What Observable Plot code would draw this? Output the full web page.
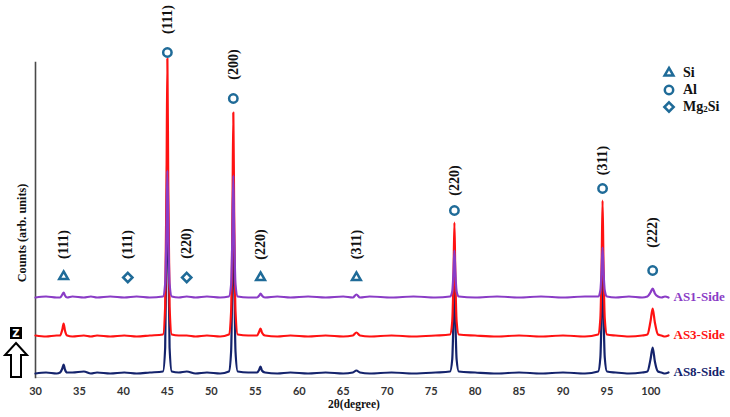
<!DOCTYPE html>
<html>
<head>
<meta charset="utf-8">
<script src="https://cdn.jsdelivr.net/npm/d3@7"></script>
<script src="https://cdn.jsdelivr.net/npm/@observablehq/plot@0.6"></script>
<style>
  html, body { margin: 0; padding: 0; background: #fff; }
  #wrap { position: relative; width: 730px; height: 417px; overflow: hidden; font-family: "Liberation Serif", serif; }
  #wrap > svg.chart { position: absolute; left: 0; top: 0; }
  .lg { position: absolute; height: 18px; display: flex; align-items: center; font-weight: bold; font-size: 14px; color: #111; white-space: nowrap; }
  .lg svg { width: 18px; height: 18px; margin-right: 5px; }
  .lg sub { font-size: 9px; vertical-align: -1px; }
</style>
</head>
<body>
<div id="wrap"></div>
<script>
// ---- data ----
const twoTheta = [
  30.0, 31.2, 32.4,
  32.8, 33.05, 33.2, 33.35, 33.6,
  34.2, 35.5, 36.3, 37.0, 38.5, 40.1, 41.5, 43.0,
  44.5, 44.75, 44.9, 45.0, 45.1, 45.25, 45.5,
  46.3, 47.2, 48.2, 49.5, 51.0,
  52.0, 52.25, 52.4, 52.5, 52.6, 52.75, 53.0,
  54.2,
  55.2, 55.45, 55.6, 55.75, 56.1,
  57.5, 59.0, 61.0, 63.0, 65.0,
  66.1, 66.5, 66.9,
  68.0, 70.5, 73.0, 75.5,
  77.15, 77.4, 77.55, 77.65, 77.75, 77.9, 78.15,
  80.0, 82.5, 85.0, 87.5, 90.0, 92.5,
  94.0, 94.25, 94.4, 94.5, 94.6, 94.75, 95.0,
  96.0, 97.5, 99.0,
  99.6, 99.95, 100.2, 100.45, 100.8,
  101.2, 101.6, 102.0
];
const countsAS8 = [
  0, 1, 0,
  1, 5, 9, 4, 1,
  1, 2, 0, 1, 0, 1, 0, 1,
  2, 26, 130, 240, 130, 26, 2,
  1, 2, 0, 1, 0,
  2, 22, 108, 200, 108, 22, 2,
  1,
  1, 4, 7, 3, 1,
  0, 1, 0, 1, 0,
  1, 3, 1,
  0, 1, 0, 1,
  2, 14, 60, 110, 60, 14, 2,
  1, 0, 1, 0, 1, 0,
  2, 16, 68, 125, 68, 16, 2,
  1, 0, 1,
  2, 14, 26, 12, 2,
  1, 0, 1
];
const countsAS3 = [
  1, 0, 1,
  1, 7, 13, 6, 1,
  0, 1, 0, 1, 0, 1, 0, 1,
  2, 30, 150, 278, 150, 30, 2,
  1, 1, 0, 1, 0,
  2, 25, 120, 224, 120, 25, 2,
  1,
  1, 5, 8, 4, 1,
  0, 1, 0, 1, 0,
  1, 4, 1,
  0, 1, 0, 1,
  2, 15, 62, 114, 62, 15, 2,
  1, 0, 1, 0, 1, 0,
  2, 18, 75, 136, 75, 18, 2,
  1, 0, 1,
  2, 15, 28, 14, 2,
  1, 0, 1
];
const countsAS1 = [
  0, 1, 0,
  0, 3, 5, 2, 0,
  1, 0, 1, 0, 1, 0, 1, 0,
  1, 14, 68, 127, 68, 14, 1,
  0, 1, 0, 1, 0,
  1, 13, 65, 122, 65, 13, 1,
  0,
  0, 2, 4, 2, 0,
  1, 0, 1, 0, 1,
  0, 3, 0,
  1, 0, 1, 0,
  1, 6, 26, 47, 26, 6, 1,
  0, 1, 0, 1, 0, 1,
  1, 7, 28, 50, 28, 7, 1,
  0, 1, 0,
  1, 5, 9, 4, 1,
  0, 1, 0
];
const seriesNames = ["AS8-Side", "AS3-Side", "AS1-Side"];
const xTicks = [30, 35, 40, 45, 50, 55, 60, 65, 70, 75, 80, 85, 90, 95, 100];

// phase markers and (hkl) labels
const markerPhase  = ["Si", "Mg2Si", "Mg2Si", "Si", "Si", "Al", "Al", "Al", "Al", "Al"];
const markerTheta  = [33.2, 40.5, 47.2, 55.6, 66.5, 45.0, 52.5, 77.65, 94.5, 100.2];
const markerHeight = [101, 100, 100, 100, 100, 325, 279, 167, 189, 107];
const hklText      = ["(111)", "(111)", "(220)", "(220)", "(311)", "(111)", "(200)", "(220)", "(311)", "(222)"];
const hklHeight    = [133, 133, 134, 133, 133, 358, 313, 197, 217, 145];

const legendPhases = ["Si", "Al", "Mg2Si"];

// ---- styling / layout ----
const seriesColors = ["#14236c", "#ff1212", "#8a3cc6"];
const offsets = {"AS8-Side": 4, "AS3-Side": 41, "AS1-Side": 80};
const markerColor = "#1f6b98";
const symbolRange = ["triangle2", "circle", "diamond2"];

const counts = [countsAS8, countsAS3, countsAS1];
const rows = seriesNames.flatMap((s, i) => twoTheta.map((t, j) => ({series: s, t, c: counts[i][j]})));
const markers = markerPhase.map((p, i) => ({phase: p, t: markerTheta[i], h: markerHeight[i]}));
const hkl = hklText.map((s, i) => ({text: s, t: markerTheta[i], h: hklHeight[i]}));

const serif = "Liberation Serif";
const chart = Plot.plot({
  width: 730, height: 417,
  marginLeft: 35, marginRight: 62, marginTop: 62, marginBottom: 40,
  x: {domain: [30, 102]},
  y: {domain: [0, 315], axis: null},
  color: {domain: seriesNames, range: seriesColors},
  symbol: {domain: legendPhases, range: symbolRange},
  style: {background: "transparent", overflow: "visible"},
  marks: [
    Plot.frame({anchor: "bottom", stroke: "#d4d4d4", strokeWidth: 1}),
    Plot.frame({anchor: "left", stroke: "#4a4a4a", strokeWidth: 1.6}),
    Plot.axisX({ticks: xTicks, tickSize: 0, tickPadding: 10, tickFormat: d => d, label: null,
      fontSize: 11, fontWeight: "bold", fontFamily: "Lato", fill: "#333"}),
    Plot.line(rows, {x: "t", y: d => d.c + offsets[d.series], z: "series", stroke: "series",
      strokeWidth: 2.2, curve: "monotone-x"}),
    Plot.text(rows, Plot.selectLast({x: "t", y: d => d.c + offsets[d.series], z: "series",
      text: "series", fill: "series", textAnchor: "start", dx: 5, dy: -1,
      fontFamily: serif, fontWeight: "bold", fontSize: 13})),
    Plot.dot(markers, {x: "t", y: "h", symbol: "phase", r: 4.2, stroke: markerColor,
      strokeWidth: 2.5, fill: "none"}),
    Plot.text(hkl, {x: "t", y: "h", text: "text", rotate: -90, fontFamily: serif,
      fontWeight: "bold", fontSize: 14, fill: "#111"}),
    Plot.text(["2θ(degree)"], {frameAnchor: "bottom", dy: 30, dx: 2, fontFamily: serif,
      fontWeight: "bold", fontSize: 11.5, fill: "#111"}),
    Plot.text(["Counts (arb. units)"], {frameAnchor: "left", textAnchor: "middle", rotate: -90,
      dx: -13, dy: 13, fontFamily: serif, fontWeight: "bold", fontSize: 12.2, fill: "#111"})
  ]
});
chart.classList.add("chart");
const wrap = document.getElementById("wrap");
wrap.appendChild(chart);

// legend (top right)
const d3Sym = {Si: d3.symbolTriangle2, Al: d3.symbolCircle, Mg2Si: d3.symbolDiamond2};
legendPhases.forEach((p, i) => {
  const div = document.createElement("div");
  div.className = "lg";
  div.style.left = "660px";
  div.style.top = (64 + i * 17) + "px";
  const area = Math.PI * 4.2 * 4.2;
  const path = d3.symbol(d3Sym[p], area)();
  const label = p === "Mg2Si" ? "Mg<sub>2</sub>Si" : p;
  div.innerHTML = `<svg viewBox="-9 -9 18 18"><path d="${path}" fill="none" stroke="${markerColor}" stroke-width="2.5"/></svg><span>${label}</span>`;
  wrap.appendChild(div);
});

// Z-direction arrow badge (left)
const z = document.createElement("div");
z.style.cssText = "position:absolute;left:3px;top:325px;width:28px;height:56px;";
z.innerHTML = `<svg width="28" height="56">
  <rect x="7" y="2" width="12" height="12" fill="#000"/>
  <text x="13" y="12" text-anchor="middle" fill="#fff" font-family="DejaVu Sans" font-weight="bold" font-size="10">Z</text>
  <path d="M13,18 L24,30 L18,30 L18,52 L8,52 L8,30 L2,30 Z" fill="#fff" stroke="#000" stroke-width="2"/>
</svg>`;
wrap.appendChild(z);
</script>
</body>
</html>
